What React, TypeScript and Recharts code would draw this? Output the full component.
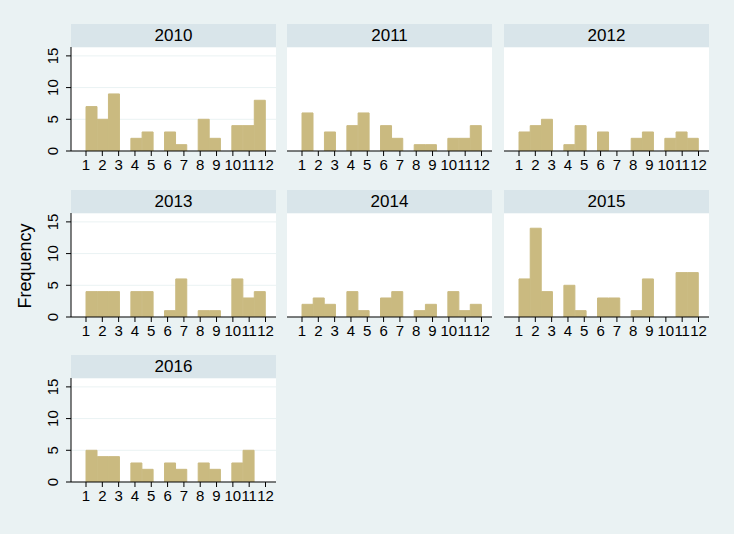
import { BarChart, Bar, XAxis, YAxis, CartesianGrid } from 'recharts'

const years = ['2010', '2011', '2012', '2013', '2014', '2015', '2016']
const monthTicks = [1, 2, 3, 4, 5, 6, 7, 8, 9, 10, 11, 12]
const freqTicks = [0, 5, 10, 15]

// counts per month (1..12)
const counts2010 = [7, 5, 9, 2, 3, 3, 1, 5, 2, 4, 4, 8]
const counts2011 = [6, 0, 3, 4, 6, 4, 2, 1, 1, 2, 2, 4]
const counts2012 = [3, 4, 5, 1, 4, 3, 0, 2, 3, 2, 3, 2]
const counts2013 = [4, 4, 4, 4, 4, 1, 6, 1, 1, 6, 3, 4]
const counts2014 = [2, 3, 2, 4, 1, 3, 4, 1, 2, 4, 1, 2]
const counts2015 = [6, 14, 4, 5, 1, 3, 3, 1, 6, 0, 7, 7]
const counts2016 = [5, 4, 4, 3, 2, 3, 2, 3, 2, 3, 5, 0]

const countsByYear = [counts2010, counts2011, counts2012, counts2013, counts2014, counts2015, counts2016]

// histogram bins like Stata: 16 bins between 1 and 12
const BIN_COUNT = 16
const X_MIN = 1
const X_MAX = 12
const binWidth = (X_MAX - X_MIN) / BIN_COUNT

function toBins(counts: number[]) {
  const bins = Array.from({ length: BIN_COUNT }, (_, i) => ({
    mid: X_MIN + (i + 0.5) * binWidth,
    count: 0,
  }))
  counts.forEach((c, i) => {
    const month = monthTicks[i]
    const idx = Math.min(BIN_COUNT - 1, Math.floor((month - X_MIN) / binWidth))
    bins[idx].count += c
  })
  return bins
}

const BG = '#EAF2F3'
const HEAD_BG = '#D9E5EA'
const BAR = '#CABA80'
const FONT = '"Liberation Sans", Arial, Helvetica, sans-serif'

const COL_X = [71, 287, 504]
const ROW_Y = [24, 190, 355]
const PANEL_W = 205
const HEAD_H = 23
const PLOT_H = 104
const Y_W = 40
const X_H = 30
const PAD = { left: 15, right: 10.5 }

function FreqTick(props: any) {
  const { x, y, payload } = props
  return (
    <text
      x={x}
      y={y}
      transform={`rotate(-90 ${x} ${y})`}
      textAnchor="middle"
      fontSize={15}
      fontFamily={FONT}
      fill="#000"
    >
      {payload.value}
    </text>
  )
}

function Panel({ year, counts, index }: { year: string; counts: number[]; index: number }) {
  const col = index % 3
  const row = Math.floor(index / 3)
  const left = COL_X[col]
  const top = ROW_Y[row]
  const data = toBins(counts)
  const showY = col === 0

  return (
    <>
      <div
        style={{
          position: 'absolute',
          left,
          top,
          width: PANEL_W,
          height: HEAD_H,
          background: HEAD_BG,
          textAlign: 'center',
          lineHeight: `${HEAD_H}px`,
          fontSize: 17,
          color: '#000',
        }}
      >
        {year}
      </div>
      <div style={{ position: 'absolute', left, top: top + HEAD_H, width: PANEL_W, height: PLOT_H, background: '#fff' }} />
      <div style={{ position: 'absolute', left: left - Y_W, top: top + HEAD_H }}>
        <BarChart
          width={Y_W + PANEL_W}
          height={PLOT_H + X_H}
          data={data}
          margin={{ top: 0, right: 0, bottom: 0, left: 0 }}
          barCategoryGap={0}
          barGap={0}
        >
          <CartesianGrid vertical={false} stroke={BG} strokeWidth={1} />
          <XAxis
            dataKey="mid"
            type="number"
            domain={[X_MIN, X_MAX]}
            ticks={monthTicks}
            interval={0}
            padding={PAD}
            height={X_H}
            tickSize={5}
            tickMargin={3}
            axisLine={{ stroke: '#000' }}
            tickLine={{ stroke: '#000' }}
            tick={{ fill: '#000', fontSize: 15, fontFamily: FONT }}
          />
          <YAxis
            width={Y_W}
            domain={[0, 16.4]}
            ticks={freqTicks}
            interval={0}
            allowDataOverflow
            tickSize={5}
            tickMargin={8}
            axisLine={showY ? { stroke: '#000' } : false}
            tickLine={showY ? { stroke: '#000' } : false}
            tick={showY ? <FreqTick /> : false}
          />
          <Bar
            dataKey="count"
            fill={BAR}
            stroke={BAR}
            strokeWidth={1}
            isAnimationActive={false}
          />
        </BarChart>
      </div>
    </>
  )
}

export default function App() {
  return (
    <div
      style={{
        position: 'absolute',
        left: 0,
        top: 0,
        width: 734,
        height: 534,
        background: BG,
        fontFamily: FONT,
        overflow: 'hidden',
      }}
    >
      {years.map((y, i) => (
        <Panel key={y} year={y} counts={countsByYear[i]} index={i} />
      ))}
      <svg style={{ position: 'absolute', left: 0, top: 0 }} width={60} height={534}>
        <text
          x={31}
          y={266}
          transform="rotate(-90 31 266)"
          textAnchor="middle"
          fontSize={18}
          fontFamily={FONT}
          fill="#000"
        >
          Frequency
        </text>
      </svg>
    </div>
  )
}
